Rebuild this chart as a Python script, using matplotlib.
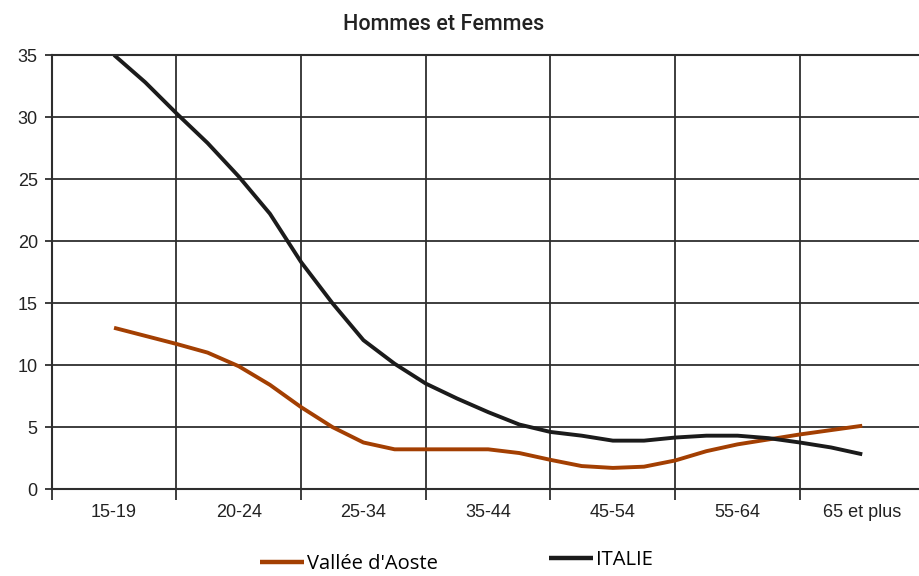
import numpy as np
import matplotlib.pyplot as plt

plt.switch_backend('Agg')
plt.rcParams['font.family'] = ['Liberation Sans', 'DejaVu Sans']

# catégories d'âge
categories = ['15-19', '20-24', '25-34', '35-44', '45-54', '55-64', '65 et plus']

# positions (quarts de catégorie)
positions = np.arange(25) / 4.0

vallee_aoste = [13.0, 12.35, 11.7, 11.0, 9.9, 8.4, 6.6, 5.0, 3.75, 3.2, 3.2, 3.2, 3.2,
                2.9, 2.35, 1.85, 1.7, 1.8, 2.3, 3.05, 3.6, 4.0, 4.4, 4.75, 5.1]
italie = [35.0, 32.8, 30.3, 27.9, 25.2, 22.2, 18.3, 15.0, 12.0, 10.1, 8.5, 7.3, 6.2,
          5.2, 4.6, 4.3, 3.9, 3.9, 4.15, 4.3, 4.3, 4.1, 3.75, 3.35, 2.8]

couleur_aoste = '#a33f02'
couleur_italie = '#1b1b1b'
gris = '#2e2e2e'

fig = plt.figure(figsize=(9.2, 5.76), dpi=100)
ax = fig.add_axes([51.7 / 920, 1 - 489 / 576, 1 - 51.7 / 920, (489 - 55) / 576])

l1, = ax.plot(positions, vallee_aoste, color=couleur_aoste, lw=2.8, label="Vallée d'Aoste",
              solid_joinstyle='round', solid_capstyle='butt')
l2, = ax.plot(positions, italie, color=couleur_italie, lw=2.8, label='ITALIE',
              solid_joinstyle='round', solid_capstyle='butt')

ax.set_ylim(0, 35)
ax.set_xlim(-0.5, -0.5 + (920 - 51.7) / 124.7)
ax.set_yticks(np.arange(0, 36, 5))

# séparateurs de catégories (ticks majeurs) et libellés au centre (ticks mineurs)
ax.set_xticks(np.arange(len(categories)) - 0.5)
ax.set_xticklabels([])
ax.set_xticks(np.arange(len(categories)), minor=True)
ax.set_xticklabels(categories, minor=True)
ax.tick_params(axis='x', which='major', length=8, width=1.3, color=gris, direction='out')
ax.tick_params(axis='x', which='minor', length=0, pad=11, labelsize=13, labelcolor='#222222')
ax.tick_params(axis='y', length=5, width=1.3, color=gris, labelsize=13, labelcolor='#222222', pad=5)

ax.grid(True, which='major', color=gris, lw=1.3)
ax.set_axisbelow(True)
for s in ['left', 'bottom', 'top']:
    ax.spines[s].set_color(gris)
    ax.spines[s].set_linewidth(1.5)
ax.spines['right'].set_visible(False)

fig.text(444 / 920, 1 - 25 / 576, 'Hommes et Femmes', ha='center', va='center',
         fontsize=15.5, fontweight='medium', family='Roboto', color='#222222')

legende = dict(frameon=False, borderpad=0, borderaxespad=0, handlelength=2.2,
               handletextpad=0.15, prop={'family': 'Open Sans', 'size': 14.5})
lg1 = fig.legend(handles=[l1], loc='center left', bbox_to_anchor=(260 / 920, 1 - 564 / 576), **legende)
lg2 = fig.legend(handles=[l2], loc='center left', bbox_to_anchor=(549 / 920, 1 - 560 / 576), **legende)
for lg in (lg1, lg2):
    for h in lg.legend_handles:
        h.set_linewidth(3.2)

fig.savefig('out.png', dpi=100)
